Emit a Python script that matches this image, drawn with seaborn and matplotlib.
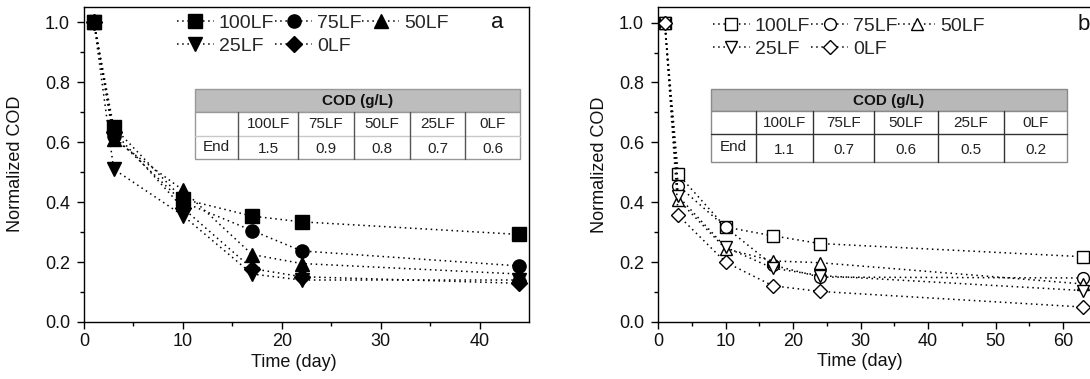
import numpy as np
import pandas as pd
import matplotlib
matplotlib.use("Agg")
import matplotlib.pyplot as plt
from matplotlib.patches import Rectangle
from matplotlib.lines import Line2D
import seaborn as sns

# ---------------- data ----------------
series = ["100LF", "75LF", "50LF", "25LF", "0LF"]

time_a = [1, 3, 10, 17, 22, 44]
a_100 = [1.0, 0.65, 0.41, 0.353, 0.334, 0.292]
a_75 = [1.0, 0.62, 0.40, 0.305, 0.237, 0.187]
a_50 = [1.0, 0.61, 0.44, 0.225, 0.195, 0.160]
a_25 = [1.0, 0.51, 0.355, 0.160, 0.140, 0.140]
a_0 = [1.0, 0.635, 0.38, 0.178, 0.151, 0.129]

time_b = [1, 3, 10, 17, 24, 63]
b_100 = [1.0, 0.493, 0.317, 0.288, 0.262, 0.218]
b_75 = [1.0, 0.455, 0.317, 0.190, 0.150, 0.147]
b_50 = [1.0, 0.408, 0.245, 0.204, 0.198, 0.127]
b_25 = [1.0, 0.420, 0.250, 0.180, 0.155, 0.105]
b_0 = [1.0, 0.356, 0.200, 0.121, 0.102, 0.050]

end_cod_a = ["1.5", "0.9", "0.8", "0.7", "0.6"]
end_cod_b = ["1.1", "0.7", "0.6", "0.5", "0.2"]

markers = {"100LF": "s", "75LF": "o", "50LF": "^", "25LF": "v", "0LF": "D"}

# ---------------- style ----------------
sns.set_theme(style="ticks")
plt.rcParams["font.family"] = ["Liberation Sans", "DejaVu Sans"]
plt.rcParams["axes.linewidth"] = 1.0

W, H = 1090, 379
fig = plt.figure(figsize=(W / 100, H / 100), dpi=100)


def fx(x):
    return x / W


def fy(y):
    return 1 - y / H


axa = fig.add_axes([fx(84), fy(322), (529 - 84) / W, (322 - 6.5) / H])
axb = fig.add_axes([fx(658), fy(322), 459 / W, (322 - 7) / H])


def draw_panel(ax, t, ys, filled):
    for name, y in zip(series, ys):
        df = pd.DataFrame({"Time": t, "COD": y})
        kw = dict(marker=markers[name], markersize=9.5 if filled else 8.5,
                  markeredgecolor="black", markeredgewidth=1.0,
                  markerfacecolor="black" if filled else "white")
        if markers[name] == "D":
            kw["markersize"] = 8.5 if filled else 7.5
        sns.lineplot(data=df, x="Time", y="COD", ax=ax, color="black",
                     linestyle=(0, (1, 2.4)), linewidth=1.1, sort=False,
                     errorbar=None, label=name, legend=False, **kw)


draw_panel(axa, time_a, [a_100, a_75, a_50, a_25, a_0], True)
draw_panel(axb, time_b, [b_100, b_75, b_50, b_25, b_0], False)

for ax, xmax, xt in [(axa, 45, [0, 10, 20, 30, 40]), (axb, 68, [0, 10, 20, 30, 40, 50, 60])]:
    ax.set_xlim(0, xmax)
    ax.set_ylim(0, 1.052)
    ax.set_xticks(xt)
    ax.set_xticks(np.arange(5, xmax, 10), minor=True)
    ax.set_yticks([0.0, 0.2, 0.4, 0.6, 0.8, 1.0])
    ax.set_yticklabels(["0.0", "0.2", "0.4", "0.6", "0.8", "1.0"])
    ax.set_yticks([0.1, 0.3, 0.5, 0.7, 0.9], minor=True)
    ax.tick_params(axis="both", which="major", direction="out", length=5, width=1.0,
                   labelsize=13, color="black", labelcolor="#111111")
    ax.tick_params(axis="both", which="minor", direction="out", length=3, width=1.0, color="black")
    ax.tick_params(axis="x", which="major", pad=3)
    ax.tick_params(axis="y", which="major", pad=5)
    for s in ax.spines.values():
        s.set_visible(True)
        s.set_color("black")
        s.set_linewidth(1.0)
    ax.set_xlabel("Time (day)", fontsize=13, color="#111111")
    ax.set_ylabel("Normalized COD", fontsize=13, color="#111111")
    ax.grid(False)

axa.xaxis.set_label_coords(0.472, -0.1)
axb.xaxis.set_label_coords(0.44, -0.1)
axa.yaxis.set_label_coords(-0.135, 0.5)
axb.yaxis.set_label_coords(-0.11, 0.5)

# legends (row-major order with ncol=3)
order = [0, 3, 1, 4, 2]
for ax, x0, y0 in [(axa, 177, 14), (axb, 713, 17)]:
    handles = ax.get_lines()[:5]
    labels = series
    leg = ax.legend([handles[i] for i in order], [labels[i] for i in order], ncol=3,
                    loc="upper left", bbox_to_anchor=(fx(x0), fy(y0)),
                    bbox_transform=fig.transFigure, frameon=False, fontsize=14,
                    handlelength=1.9, handletextpad=0.25, columnspacing=0.05,
                    labelspacing=0.3, borderpad=0, borderaxespad=0)

fig.text(fx(497), fy(23), "a", fontsize=16, ha="center", va="center", color="#111111")
fig.text(fx(1084), fy(24), "b", fontsize=16, ha="center", va="center", color="#111111")


# ---------------- inset tables ----------------
def draw_table(cols, rows, values, inner_col, sep_col, outer_col, header_fill):
    x0, x1 = cols[0], cols[-1]
    r0, r1, r2, r3 = rows
    fig.add_artist(Rectangle((fx(x0), fy(r1)), (x1 - x0) / W, (r1 - r0) / H,
                             transform=fig.transFigure, facecolor=header_fill,
                             edgecolor=outer_col, linewidth=1.0, zorder=5))
    fig.add_artist(Rectangle((fx(x0), fy(r3)), (x1 - x0) / W, (r3 - r1) / H,
                             transform=fig.transFigure, facecolor="white",
                             edgecolor=outer_col, linewidth=1.0, zorder=5))
    fig.add_artist(Line2D([fx(x0), fx(x1)], [fy(r2), fy(r2)], transform=fig.transFigure,
                          color=sep_col, linewidth=1.0, zorder=6))
    for c in cols[1:-1]:
        fig.add_artist(Line2D([fx(c), fx(c)], [fy(r1), fy(r3)], transform=fig.transFigure,
                              color=inner_col, linewidth=1.0, zorder=6))
    fig.text(fx((x0 + x1) / 2), fy((r0 + r1) / 2 + 0.5), "COD (g/L)", fontsize=11,
             fontweight="bold", ha="center", va="center", zorder=7, color="#111111")
    for i, name in enumerate(series):
        cx = (cols[i + 1] + cols[i + 2]) / 2
        fig.text(fx(cx), fy((r1 + r2) / 2 + 0.5), name, fontsize=11, ha="center",
                 va="center", zorder=7, color="#222222")
        fig.text(fx(cx), fy((r2 + r3) / 2 + 1.5), values[i], fontsize=11, ha="center",
                 va="center", zorder=7, color="#222222")
    fig.text(fx((cols[0] + cols[1]) / 2), fy((r2 + r3) / 2 - 1), "End", fontsize=11,
             ha="center", va="center", zorder=7, color="#222222")


draw_table([195, 238, 298, 354, 410, 465, 520], [89, 112, 136, 159], end_cod_a,
           inner_col="#555555", sep_col="#c8c8c8", outer_col="#999999", header_fill="#bdbdbd")
draw_table([711, 756, 813, 874, 938, 1004, 1067], [89, 111, 134, 162], end_cod_b,
           inner_col="#333333", sep_col="#333333", outer_col="#8a8a8a", header_fill="#b8b8b8")

fig.savefig("out.png", dpi=100)
